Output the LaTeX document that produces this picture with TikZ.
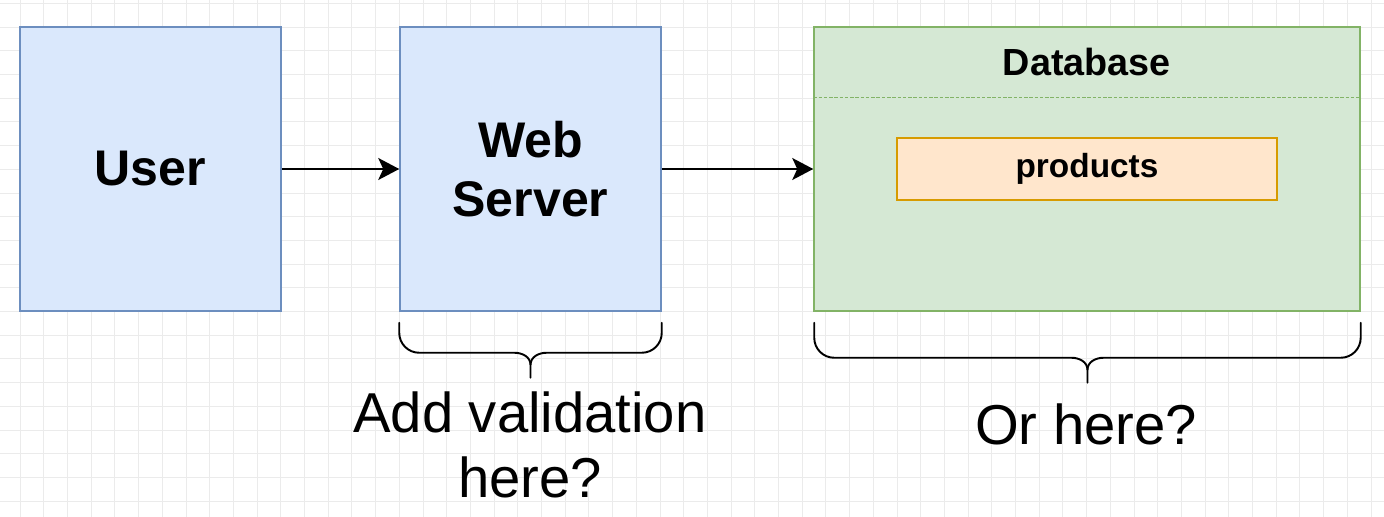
\documentclass[tikz,border=0pt]{standalone}
\usepackage{fontspec}
\setmainfont{Liberation Sans}
\usetikzlibrary{positioning,calc,arrows.meta}

\definecolor{userfill}{HTML}{DAE8FC}
\definecolor{userline}{HTML}{6C8EBF}
\definecolor{dbfill}{HTML}{D5E8D4}
\definecolor{dbline}{HTML}{82B366}
\definecolor{tablefill}{HTML}{FFE6CC}
\definecolor{tableline}{HTML}{D79B00}
\definecolor{gridgray}{HTML}{EBEBEB}

\tikzset{
  box/.style={draw=userline, fill=userfill, line width=0.9pt, minimum width=5.22cm,
    minimum height=5.68cm, inner sep=0pt, align=center,
    font=\bfseries\fontsize{28.5}{34}\selectfont},
  dbbox/.style={draw=dbline, fill=dbfill, line width=0.9pt, minimum width=10.92cm,
    minimum height=5.68cm, inner sep=0pt},
  table/.style={draw=tableline, fill=tablefill, line width=0.9pt, minimum width=7.6cm,
    minimum height=1.24cm, inner sep=0pt, font=\bfseries\fontsize{19}{22}\selectfont},
  flow/.style={line width=1.1pt, -{Stealth[length=0.42cm,width=0.44cm,inset=0.1cm]}},
  brace/.style={line width=1.1pt, line cap=round},
  note/.style={inner sep=0pt, align=center, font=\fontsize{32}{37.5}\selectfont},
  gridline/.style={gridgray, line width=0.4pt}
}

% brace under a box: left point, right point, name, drop to the bar
\newcommand{\curlybrace}[4]{%
  \path #1 coordinate (#3l) #2 coordinate (#3r);
  \coordinate (#3m) at ($(#3l)!0.5!(#3r)$);
  \draw[brace] (#3l) -- ++(0,#4-20) to[out=-90,in=180] ++(20,20)
    -- ($(#3m)+(-16,#4)$) to[out=0,in=90] ($(#3m)+(0,#4+12)$) -- ($(#3m)+(0,#4+25)$);
  \draw[brace] (#3r) -- ++(0,#4-20) to[out=-90,in=0] ++(-20,20)
    -- ($(#3m)+(16,#4)$) to[out=180,in=90] ($(#3m)+(0,#4+12)$);
}

\begin{document}
\begin{tikzpicture}[x=0.02cm, y=-0.02cm]
  \useasboundingbox[fill=white] (0,0) rectangle (1384,517);

  % background grid
  \foreach \i in {0,...,58} \draw[gridline] (20+23.7*\i-23.7,0) -- (20+23.7*\i-23.7,517);
  \foreach \j in {0,...,22} \draw[gridline] (0,27+23.7*\j-23.7) -- (1384,27+23.7*\j-23.7);

  % the three stages
  \node[box] (user) at (150.5,169) {User};
  \node[box, right=2.35cm of user] (web) {Web\\Server};
  \node[dbbox, right=3.03cm of web] (db) {};

  \node[font=\bfseries\fontsize{21.5}{25}\selectfont] (dbtitle) at ($(db.north)+(0,36)$) {Database};
  \draw[dbline, line width=0.8pt, dash pattern=on 2pt off 1pt]
    ($(db.north west)+(0,71)$) -- ($(db.north east)+(0,71)$);
  \node[table] (products) at (db.center) {products};

  \draw[flow] (user) -- (web);
  \draw[flow] (web) -- (db);

  % braces and questions
  \curlybrace{($(web.south west)+(0,11)$)}{($(web.south east)+(0,11)$)}{bw}{30}
  \curlybrace{($(db.south west)+(1,11)$)}{($(db.south east)+(0,11)$)}{bd}{35}

  \node[note, anchor=north] (askweb) at (530,391) {Add validation\\here?};
  \node[note, anchor=north] (askdb) at (1086,403) {Or here?};
\end{tikzpicture}
\end{document}
